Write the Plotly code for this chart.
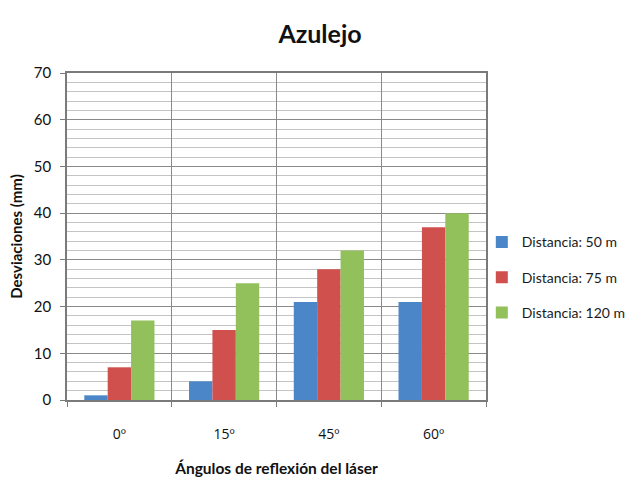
import plotly.graph_objects as go

# Deviation measurements on tile (azulejo) by laser reflection angle
angulos = ["0º", "15º", "45º", "60º"]
series_nombres = ["Distancia: 50 m", "Distancia: 75 m", "Distancia: 120 m"]
dist_50 = [1, 4, 21, 21]
dist_75 = [7, 15, 28, 37]
dist_120 = [17, 25, 32, 40]
y_ticks = [0, 10, 20, 30, 40, 50, 60, 70]

colores = ["#4A86C8", "#D0504D", "#92C05A"]
fuente = "Lato"

fig = go.Figure()
for i, (nombre, valores, color) in enumerate(zip(series_nombres, [dist_50, dist_75, dist_120], colores)):
    fig.add_trace(go.Bar(
        x=angulos, y=valores, name=nombre, legendgroup=f"g{i}",
        marker=dict(color=color, line=dict(width=0)),
    ))

fig.update_layout(
    width=630, height=483,
    margin=dict(l=67, r=144, t=73, b=83, autoexpand=False),
    paper_bgcolor="white", plot_bgcolor="white",
    barmode="group", bargap=0.33, bargroupgap=0,
    font=dict(family=fuente, color="#222222", size=14),
    title=dict(text="<b>Azulejo</b>", x=0.508, xanchor="center", y=0.93, yanchor="middle",
               font=dict(family=fuente, size=25, color="#111111")),
    legend=dict(x=0.99, xanchor="left", y=0.375, yanchor="middle",
                font=dict(family=fuente, size=14, color="#1a1a1a"),
                tracegroupgap=14, itemwidth=30, traceorder="grouped",
                bgcolor="rgba(0,0,0,0)"),
    showlegend=True,
)

fig.update_xaxes(
    type="category", tickson="boundaries",
    showgrid=True, gridcolor="#8a8a8a", gridwidth=1,
    showline=True, linecolor="#7a7a7a", linewidth=1.5, mirror=True,
    ticks="outside", ticklen=5, tickcolor="#7a7a7a",
    ticklabelstandoff=20,
    tickfont=dict(family="Open Sans", size=14, color="#111111"),
    title=dict(text="<b>Ángulos de reflexión del láser</b>", standoff=22,
               font=dict(family=fuente, size=15.5, color="#111111")),
)
fig.update_yaxes(
    range=[0, 70], tickvals=y_ticks,
    showgrid=True, gridcolor="#8a8a8a", gridwidth=1.2,
    minor=dict(dtick=2, showgrid=True, gridcolor="#c4c4c4", gridwidth=1),
    showline=True, linecolor="#7a7a7a", linewidth=1.5, mirror=True,
    ticks="outside", ticklen=5, tickcolor="#7a7a7a",
    ticklabelstandoff=6,
    zeroline=False,
    tickfont=dict(family=fuente, size=15, color="#111111"),
    title=dict(text="<b>Desviaciones (mm)</b>", standoff=8,
               font=dict(family=fuente, size=15, color="#111111")),
)

fig.write_html("out.html")
